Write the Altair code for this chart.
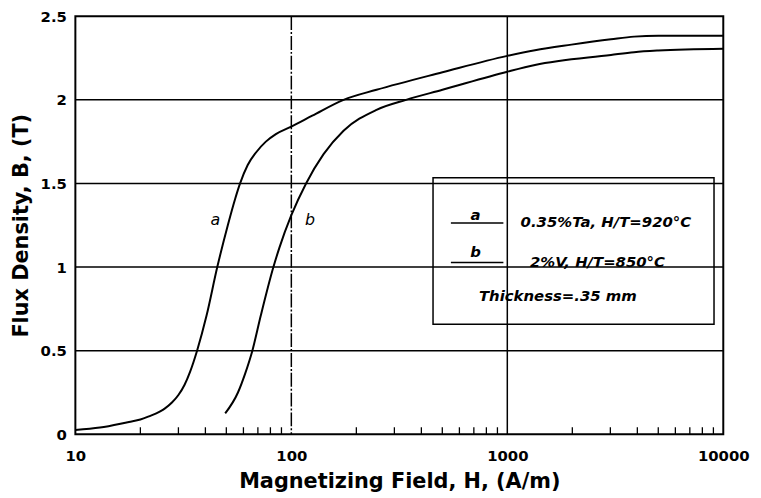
import altair as alt
import pandas as pd

# Curve a: 0.35%Ta, H/T=920C
a_H = [10, 13, 17.7, 20, 21.9, 24.7, 26, 28, 30, 32, 34, 36.6, 40.5, 45.4, 50.8, 55, 57.9, 62.8, 68.6,
       76.2, 84.8, 100, 125, 174.5, 248, 501, 1000, 1343, 1981, 3020, 3864, 5000, 10000]
a_B = [0.025, 0.04, 0.074, 0.088, 0.107, 0.137, 0.155, 0.19, 0.235, 0.295, 0.375, 0.5, 0.71, 1.0, 1.25, 1.41, 1.5, 1.61, 1.685,
       1.75, 1.795, 1.84, 1.905, 2.0, 2.06, 2.165, 2.263, 2.297, 2.33, 2.362, 2.378, 2.383, 2.383]
# Curve b: 2%V, H/T=850C
b_H = [49.4, 56.6, 61, 66, 72.2, 82.6, 88, 100, 117, 141, 174.5, 248, 340, 501, 1000, 1343, 3020, 3864, 5000, 10000]
b_B = [0.125, 0.25, 0.36, 0.5, 0.71, 1.0, 1.115, 1.31, 1.5, 1.675, 1.815, 1.94, 2.0, 2.06, 2.168, 2.208, 2.268, 2.285, 2.295, 2.306]

x_ticks = [10, 100, 1000, 10000]
y_ticks = [0, 0.5, 1, 1.5, 2, 2.5]
h_grid = [0.5, 1, 1.5, 2]
v_grid_solid = [1000]
v_grid_dash = [100]
minor_ticks = [20, 30, 40, 50, 60, 70, 80, 90, 200, 300, 400, 500, 600, 700, 800, 900,
               2000, 3000, 4000, 5000, 6000, 7000, 8000, 9000]

curve_labels = ["a", "b"]
curve_label_H = [44.5, 122]
curve_label_B = [1.28, 1.28]

legend_box = {"x": 453, "x2": 9060, "y": 0.658, "y2": 1.534}
legend_line_y = [1.263, 1.027]
legend_line_x = [548, 959]
legend_key_B = [1.31, 1.09]
legend_key_H = [713, 713]
legend_texts = ["0.35%Ta, H/T=920°C", "2%V,  H/T=850°C", "Thickness=.35 mm"]
legend_text_H = [2860, 2614, 1714]
legend_text_B = [1.269, 1.032, 0.825]

FONT = "DejaVu Sans"

xs = alt.Scale(type="log", domain=[10, 10000], nice=False)
ys = alt.Scale(domain=[0, 2.5], nice=False)

curves = pd.DataFrame({
    "H": a_H + b_H,
    "B": a_B + b_B,
    "series": ["a"] * len(a_H) + ["b"] * len(b_H),
})

x_axis = alt.Axis(values=x_ticks, format="d", title="Magnetizing Field, H, (A/m)",
                  grid=False, ticks=False, tickSize=0, domain=False,
                  labelFont=FONT, labelFontWeight="bold", labelFontSize=15, labelColor="black",
                  labelPadding=14, labelFlush=False,
                  titleFont=FONT, titleFontWeight="bold", titleFontSize=21, titleColor="black",
                  titlePadding=8)
y_axis = alt.Axis(values=y_ticks, format="~g", title="Flux Density, B, (T)",
                  grid=False, ticks=False, tickSize=0, domain=False,
                  labelFont=FONT, labelFontWeight="bold", labelFontSize=15, labelColor="black",
                  labelPadding=9, labelFlush=False,
                  titleFont=FONT, titleFontWeight="bold", titleFontSize=21, titleColor="black",
                  titlePadding=9)

base_curve = alt.Chart(curves).mark_line(color="black", strokeWidth=2, interpolate="monotone").encode(
    x=alt.X("H:Q", scale=xs, axis=x_axis),
    y=alt.Y("B:Q", scale=ys, axis=y_axis),
    detail="series:N",
)

hgrid = alt.Chart(pd.DataFrame({"B": h_grid})).mark_rule(color="black", strokeWidth=1.5).encode(
    y=alt.Y("B:Q", scale=ys))
vgrid = alt.Chart(pd.DataFrame({"H": v_grid_solid})).mark_rule(color="black", strokeWidth=1.5).encode(
    x=alt.X("H:Q", scale=xs))
vgrid_d = alt.Chart(pd.DataFrame({"H": v_grid_dash})).mark_rule(color="black", strokeWidth=1.5,
                                                                  strokeDash=[14, 2, 2, 2]).encode(
    x=alt.X("H:Q", scale=xs))

minor = alt.Chart(pd.DataFrame({"H": minor_ticks, "y0": [0] * len(minor_ticks),
                                "y1": [0.042] * len(minor_ticks)})).mark_rule(
    color="black", strokeWidth=1.3).encode(
    x=alt.X("H:Q", scale=xs), y=alt.Y("y0:Q", scale=ys), y2="y1:Q")

clabels = alt.Chart(pd.DataFrame({"t": curve_labels, "H": curve_label_H, "B": curve_label_B})).mark_text(
    font=FONT, fontSize=16, fontStyle="italic", color="black", align="center", baseline="middle").encode(
    x=alt.X("H:Q", scale=xs), y=alt.Y("B:Q", scale=ys), text="t:N")

box = alt.Chart(pd.DataFrame([legend_box])).mark_rect(fill=None, fillOpacity=0, stroke="black",
                                                       strokeWidth=1.5).encode(
    x=alt.X("x:Q", scale=xs), x2="x2:Q", y=alt.Y("y:Q", scale=ys), y2="y2:Q")

lg_lines = alt.Chart(pd.DataFrame({"x": [legend_line_x[0]] * 2, "x2": [legend_line_x[1]] * 2,
                                   "y": legend_line_y})).mark_rule(color="black", strokeWidth=1.5).encode(
    x=alt.X("x:Q", scale=xs), x2="x2:Q", y=alt.Y("y:Q", scale=ys))

lg_keys = alt.Chart(pd.DataFrame({"t": curve_labels, "H": legend_key_H, "B": legend_key_B})).mark_text(
    font=FONT, fontSize=15, fontStyle="italic", fontWeight="bold", color="black",
    align="center", baseline="middle").encode(
    x=alt.X("H:Q", scale=xs), y=alt.Y("B:Q", scale=ys), text="t:N")

lg_texts = alt.Chart(pd.DataFrame({"t": legend_texts, "H": legend_text_H, "B": legend_text_B})).mark_text(
    font=FONT, fontSize=15, fontStyle="italic", fontWeight="bold", color="black",
    align="center", baseline="middle").encode(
    x=alt.X("H:Q", scale=xs), y=alt.Y("B:Q", scale=ys), text="t:N")

chart = alt.layer(hgrid, vgrid, vgrid_d, minor, box, lg_lines, base_curve, clabels, lg_keys, lg_texts).properties(
    width=654, height=422,
    autosize=alt.AutoSizeParams(type="none"),
    padding={"left": 68, "top": 6, "right": 30, "bottom": 60},
    background="white",
).configure_view(stroke="black", strokeWidth=2)

chart.save("out.html", embed_options={"renderer": "svg", "actions": False})
